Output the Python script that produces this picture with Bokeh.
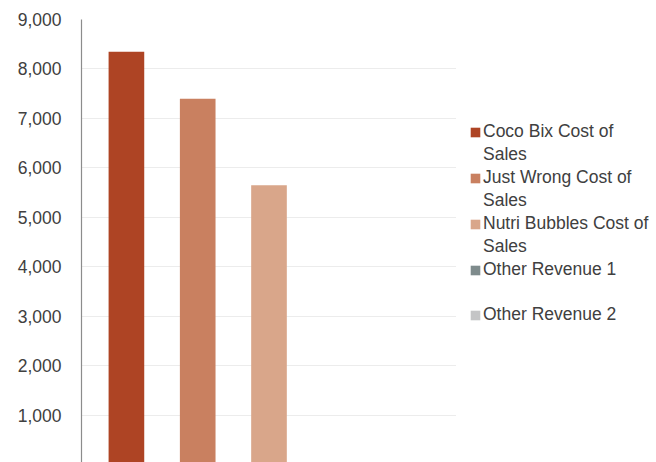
from bokeh.plotting import figure
from bokeh.layouts import row
from bokeh.models import Range1d, FixedTicker, NumeralTickFormatter, Legend, LegendItem
from bokeh.embed import file_html
from bokeh.resources import INLINE

series_names = ["Coco Bix Cost of Sales", "Just Wrong Cost of Sales", "Nutri Bubbles Cost of Sales",
                "Other Revenue 1", "Other Revenue 2"]
# legend text as it wraps in the reference: (first line, continuation line or None)
legend_lines = [("Coco Bix Cost of", "Sales"), ("Just Wrong Cost of", "Sales"),
                ("Nutri Bubbles Cost of", "Sales"), ("Other Revenue 1", " "), ("Other Revenue 2", None)]
series_values = [8350, 7400, 5650, 0, 0]
series_colors = ["#AE4424", "#C98060", "#D9A68A", "#7E8B8C", "#C4C5C6"]
y_ticks = [1000, 2000, 3000, 4000, 5000, 6000, 7000, 8000, 9000]

FONT = "Liberation Sans"
FS = "17.5px"

p = figure(width=456, height=462, output_backend="svg", toolbar_location=None,
           x_range=Range1d(0.37, 5.63), y_range=Range1d(50, 9000),
           x_axis_location=None, min_border_left=81, min_border_right=0,
           min_border_top=19, min_border_bottom=0)
p.outline_line_color = None
p.xgrid.visible = False
p.ygrid.grid_line_color = "#ECECEC"
p.ygrid.grid_line_width = 1.2
p.ygrid.ticker = FixedTicker(ticks=y_ticks)

ax = p.yaxis[0]
ax.ticker = FixedTicker(ticks=y_ticks)
ax.formatter = NumeralTickFormatter(format="0,0")
ax.axis_line_color = "#8C8C8C"
ax.axis_line_width = 1.2
ax.major_tick_line_color = None
ax.minor_tick_line_color = None
ax.major_label_standoff = 14
ax.major_label_text_font = FONT
ax.major_label_text_font_size = FS
ax.major_label_text_color = "#404040"

for i, (val, col) in enumerate(zip(series_values, series_colors)):
    p.vbar(x=[i + 1], top=[val], bottom=0, width=0.5, fill_color=col, line_color=None)

# legend panel: same series drawn again, but outside this panel's visible ranges,
# so that only their legend swatches show
lf = figure(width=200, height=462, output_backend="svg", toolbar_location=None,
            x_range=Range1d(-2, -1), y_range=Range1d(-2, -1),
            x_axis_location=None, y_axis_location=None,
            min_border_left=0, min_border_right=0, min_border_top=0, min_border_bottom=0)
lf.outline_line_color = None
lf.xgrid.visible = False
lf.ygrid.visible = False

items = []
for i, ((first, second), val, col) in enumerate(zip(legend_lines, series_values, series_colors)):
    r = lf.vbar(x=[i + 1], top=[val], bottom=0, width=0.5, fill_color=col, line_color=None)
    items.append(LegendItem(label=first, renderers=[r]))
    if second is not None:
        items.append(LegendItem(label=second, renderers=[]))

legend = Legend(items=items, location=(13, 137), orientation="vertical",
                glyph_width=12, glyph_height=12, label_standoff=2, spacing=2,
                padding=0, margin=0, border_line_color=None, background_fill_alpha=0,
                label_text_font=FONT, label_text_font_size=FS,
                label_text_color="#404040", label_height=20)
lf.add_layout(legend, "center")

layout = row(p, lf, spacing=0)
open("out.html", "w").write(file_html(layout, INLINE))
